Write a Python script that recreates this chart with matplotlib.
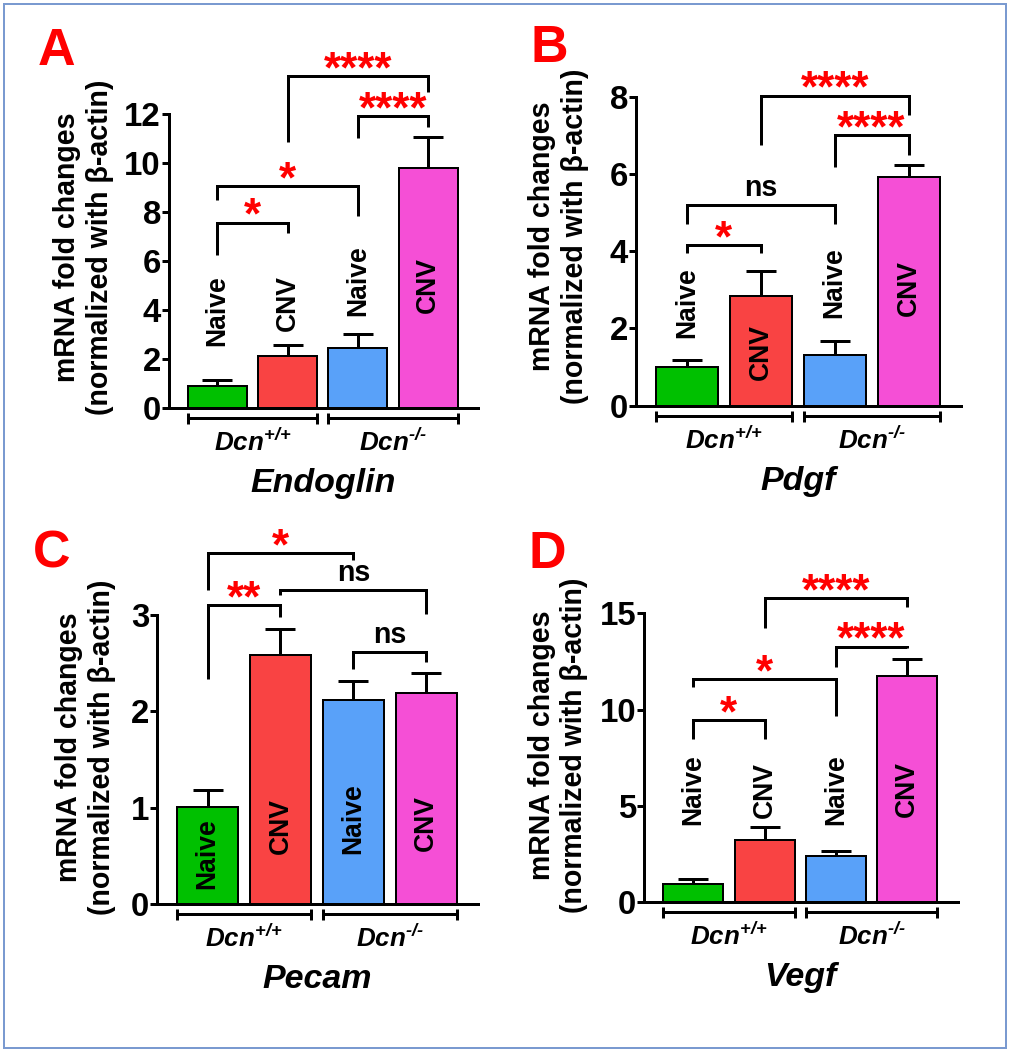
import matplotlib
matplotlib.use('Agg')
import matplotlib.pyplot as plt
from matplotlib.patches import Rectangle
from matplotlib.transforms import ScaledTranslation

plt.rcParams['font.family'] = ['Liberation Sans', 'DejaVu Sans']
plt.rcParams['mathtext.fontset'] = 'custom'
plt.rcParams['mathtext.rm'] = 'Liberation Sans:italic:bold'
plt.rcParams['mathtext.bf'] = 'Liberation Sans:bold'
plt.rcParams['mathtext.bfit'] = 'Liberation Sans:italic:bold'

W, H = 1009, 1050

# data
groups = ['Naive', 'CNV', 'Naive', 'CNV']
colors = ['#00c000', '#f94343', '#59a1f9', '#f54fd6']
genotypes = [r'$\mathbfit{Dcn}^{\text{+/+}}$', r'$\mathbfit{Dcn}^{\text{-/-}}$']
genes = ['Endoglin', 'Pdgf', 'Pecam', 'Vegf']
letters = ['A', 'B', 'C', 'D']

endoglin_mean = [0.93, 2.13, 2.45, 9.80]
endoglin_sem = [0.24, 0.45, 0.58, 1.26]
pdgf_mean = [0.99, 2.85, 1.30, 5.91]
pdgf_sem = [0.19, 0.65, 0.38, 0.33]
pecam_mean = [1.01, 2.59, 2.12, 2.19]
pecam_sem = [0.18, 0.26, 0.20, 0.21]
vegf_mean = [0.95, 3.23, 2.40, 11.76]
vegf_sem = [0.26, 0.66, 0.26, 0.87]

# comparisons: (bar1, bar2, bracket height, left leg end, right leg end, text)
endoglin_sig = [(0, 1, 7.58, 6.26, 7.17, '*'),
                (0, 2, 9.07, 8.50, 7.85, '*'),
                (2, 3, 11.93, 11.04, 11.50, '****'),
                (1, 3, 13.56, 10.88, 12.93, '****')]
pdgf_sig = [(0, 1, 4.16, 3.96, 3.95, '*'),
            (0, 2, 5.20, 4.70, 4.70, 'ns'),
            (2, 3, 7.00, 6.19, 6.48, '****'),
            (1, 3, 8.03, 6.74, 7.53, '****')]
pecam_sig = [(0, 1, 3.10, 2.34, 2.98, '**'),
             (0, 2, 3.64, 3.26, 3.57, '*'),
             (1, 3, 3.26, 3.21, 3.01, 'ns'),
             (2, 3, 2.62, 2.44, 2.51, 'ns')]
vegf_sig = [(0, 1, 9.46, 8.47, 8.47, '*'),
            (0, 2, 11.57, 11.19, 9.67, '*'),
            (2, 3, 13.27, 12.20, 13.18, '****'),
            (1, 3, 15.78, 14.22, 15.34, '****')]

# per panel layout (pixels): axes left, right, top, bottom; ylabel centre; letter pos
panels = [
    dict(mean=endoglin_mean, sem=endoglin_sem, sig=endoglin_sig, ymax=12, step=2,
         box=(169, 478, 114.3, 408.3), ylab=(83.5, 247.5), let=(38, 65),
         lab_y=[3.97, 4.3, 5.2, 5.05]),
    dict(mean=pdgf_mean, sem=pdgf_sem, sig=pdgf_sig, ymax=8, step=2,
         box=(636, 961, 96.7, 405.7), ylab=(558.5, 236.5), let=(530, 62),
         lab_y=[2.67, 1.38, 3.19, 3.04]),
    dict(mean=pecam_mean, sem=pecam_sem, sig=pecam_sig, ymax=3, step=1,
         box=(157.3, 478, 615, 904.3), ylab=(85.5, 747), let=(33, 567),
         lab_y=[0.53, 0.81, 0.89, 0.84]),
    dict(mean=vegf_mean, sem=vegf_sem, sig=vegf_sig, ymax=15, step=5,
         box=(644, 958, 613.3, 902.3), ylab=(558, 745), let=(529, 568),
         lab_y=[5.83, 5.83, 5.83, 5.89]),
]

fig = plt.figure(figsize=(W / 72, H / 72), dpi=72)
fig.patches.append(Rectangle((3.5 / W, 2.5 / H), 1002.5 / W, 1043.5 / H, transform=fig.transFigure,
                             fill=False, edgecolor='#7a9ad0', lw=2))

x = [0, 1, 2, 3]
for i, p in enumerate(panels):
    l, r, t, b = p['box']
    ax = fig.add_axes([l / W, 1 - b / H, (r - l) / W, (b - t) / H])
    ax.bar(x, p['mean'], width=0.84, color=colors, edgecolor='black', linewidth=2, zorder=2)
    ax.errorbar(x, p['mean'], yerr=[[0] * 4, p['sem']], fmt='none', ecolor='black',
                elinewidth=3, capsize=15, capthick=3, zorder=1)
    ax.set_xlim(-0.69, 3.71)
    ax.set_ylim(0, p['ymax'])
    ax.set_yticks(range(0, p['ymax'] + 1, p['step']))
    ax.set_xticks([])
    for s in ['top', 'right']:
        ax.spines[s].set_visible(False)
    for s in ['left', 'bottom']:
        ax.spines[s].set_linewidth(3)
    ax.tick_params(axis='y', length=7, width=3, pad=1, labelsize=33)
    for lb in ax.get_yticklabels():
        lb.set_fontweight('bold')
    ax.patch.set_visible(False)

    for xi, g, ly in zip(x, groups, p['lab_y']):
        ax.text(xi, ly, g, rotation=90, ha='center', va='center', fontsize=26.5,
                fontweight='bold')

    for x1, x2, yh, yl, yr, txt in p['sig']:
        ax.plot([x1, x1, x2, x2], [yl, yh, yh, yr], color='black', lw=3, clip_on=False,
                solid_joinstyle='miter', solid_capstyle='butt')
        if txt == 'ns':
            ax.annotate(txt, xy=((x1 + x2) / 2, yh), xytext=(0, 9), textcoords='offset points',
                        ha='center', va='baseline', fontsize=28.5, fontweight='bold',
                        annotation_clip=False)
        else:
            ax.annotate(txt, xy=((x1 + x2) / 2, yh), xytext=(0, -6), textcoords='offset points',
                        ha='center', va='baseline', fontsize=44, fontweight='bold', color='red',
                        annotation_clip=False)

    # genotype brackets under the axis
    below = ax.get_xaxis_transform() + ScaledTranslation(0, -10 / 72, fig.dpi_scale_trans)
    for k, gt in enumerate(genotypes):
        xa, xb = 2 * k - 0.42, 2 * k + 1.42
        ax.plot([xa, xb], [0, 0], color='black', lw=3, marker='|', markersize=11,
                markeredgewidth=3, clip_on=False, transform=below)
        ax.annotate(gt, xy=(2 * k + 0.5, 0), xycoords=('data', 'axes fraction'),
                    xytext=(0, -43), textcoords='offset points', ha='center', va='baseline',
                    fontsize=26, annotation_clip=False)
    ax.annotate(genes[i], xy=(1.5, 0), xycoords=('data', 'axes fraction'),
                xytext=(0, -84), textcoords='offset points', ha='center', va='baseline',
                fontsize=34, fontweight='bold', style='italic', annotation_clip=False)

    cx, cy = p['ylab']
    fig.text(cx / W, 1 - cy / H, 'mRNA fold changes\n(normalized with \u03b2-actin)', rotation=90,
             ha='center', va='center', fontsize=28.5, fontweight='bold', multialignment='center',
             linespacing=1.2)
    lx, ly = p['let']
    fig.text(lx / W, 1 - ly / H, letters[i], fontsize=52, fontweight='bold', color='red',
             ha='left', va='baseline')

fig.savefig('out.png', dpi=72)
